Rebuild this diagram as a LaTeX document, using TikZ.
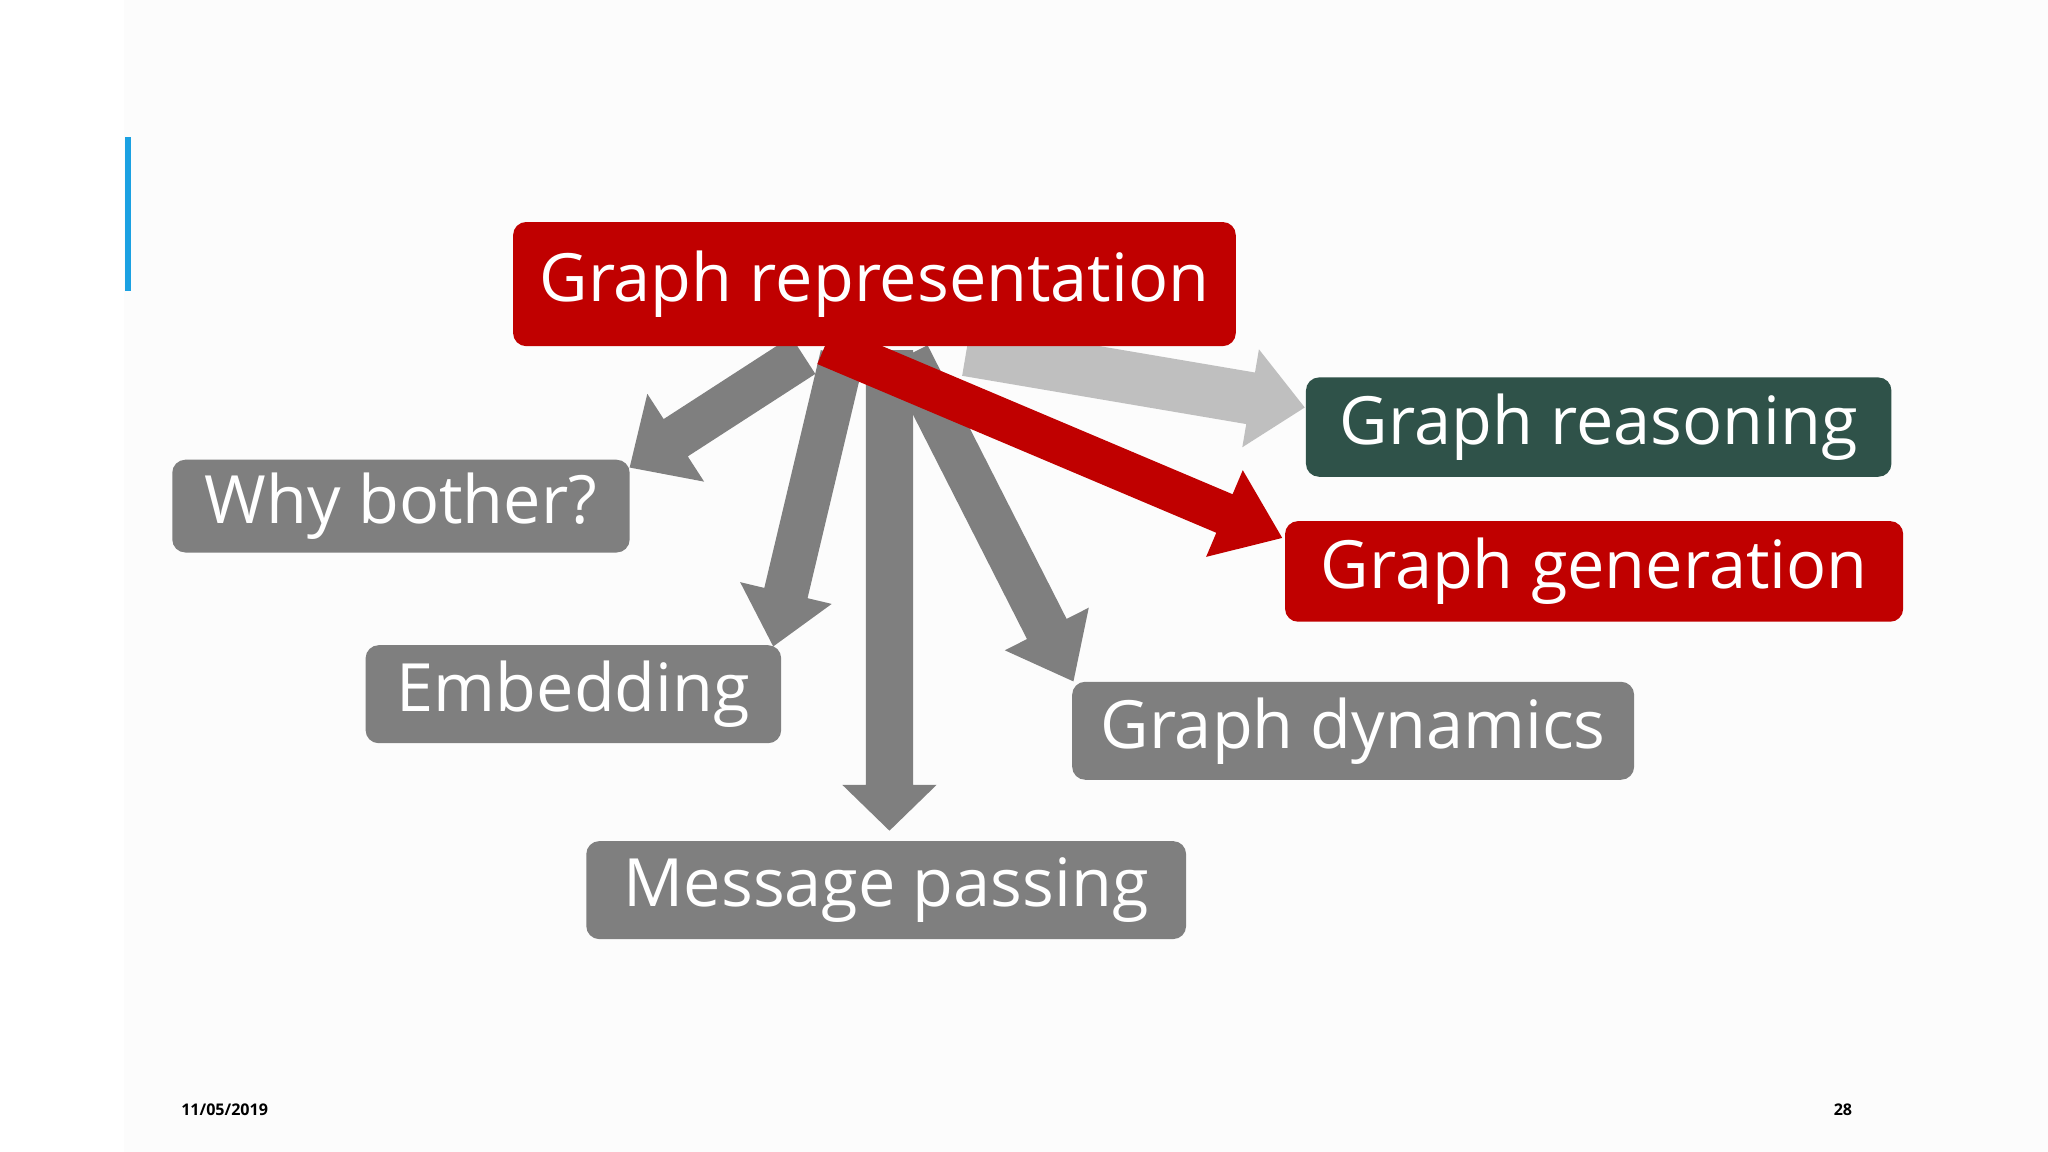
\documentclass[tikz,border=0pt]{standalone}
\usepackage{fontspec}
\setmainfont{Open Sans}
\usetikzlibrary{calc}
\definecolor{bred}{HTML}{C00000}
\definecolor{bgray}{HTML}{7F7F7F}
\definecolor{lgray}{HTML}{BFBFBF}
\definecolor{bteal}{HTML}{2F5249}
\definecolor{bblue}{HTML}{1BA1E2}
\newcommand{\blockarrow}[6]{%
  \path let \p1=($(#3)-(#2)$), \n1={atan2(\y1,\x1)}, \n2={veclen(\x1,\y1)} in
    [fill=#1, shift={(#2)}, rotate=\n1]
    (0pt,{#4*0.1423pt}) -- ({(\n2-#6*0.2845)*1pt},{#4*0.1423pt}) --
    ({(\n2-#6*0.2845)*1pt},{#5*0.1423pt}) -- ({\n2*1pt},0pt) --
    ({(\n2-#6*0.2845)*1pt},{-#5*0.1423pt}) -- ({(\n2-#6*0.2845)*1pt},{-#4*0.1423pt}) --
    (0pt,{-#4*0.1423pt}) -- cycle;}
\tikzset{box/.style={rounded corners=0.1cm, text=white, inner sep=0pt, font=\fontsize{14.5}{16}\selectfont}}
\begin{document}
\begin{tikzpicture}[x=0.01cm,y=-0.01cm]
\useasboundingbox (0,0) rectangle (1568,882);
\fill[white] (0,0) rectangle (1568,882);
\fill[black!1] (95,0) rectangle (1568,882);
\draw[bblue, line width=1.2pt] (98,105) coordinate (b1) -- (98,223) coordinate (b2);
% arrow endpoints
\coordinate (s1) at (615,272); \coordinate (t1) at (482,358);
\coordinate (s2) at (645,272); \coordinate (t2) at (592,495);
\coordinate (s3) at (681,268); \coordinate (t3) at (681,636);
\coordinate (s4) at (695,272); \coordinate (t4) at (822,522);
\coordinate (s5) at (740,268); \coordinate (t5) at (999,312);
\coordinate (s6) at (632,264); \coordinate (t6) at (982,412);
\blockarrow{bgray}{s1}{t1}{34}{80}{42}
\blockarrow{bgray}{s2}{t2}{34}{72}{42}
\blockarrow{bgray}{s3}{t3}{36}{72}{35}
\blockarrow{bgray}{s4}{t4}{34}{72}{45}
\blockarrow{lgray}{s5}{t5}{40}{76}{42}
\blockarrow{bred}{s6}{t6}{32}{72}{48}
\node[box, fill=bred, minimum width=5.53cm, minimum height=0.95cm] (rep) at (669.5,217.5) {Graph representation};
\node[box, fill=bgray, minimum width=3.5cm, minimum height=0.71cm] (why) at (307,387.5) {Why bother?};
\node[box, fill=bgray, minimum width=3.18cm, minimum height=0.75cm] (emb) at (439,531.5) {Embedding};
\node[box, fill=bgray, minimum width=4.59cm, minimum height=0.75cm] (msg) at (678.5,681.5) {Message passing};
\node[box, fill=bgray, minimum width=4.30cm, minimum height=0.75cm] (dyn) at (1036,559.5) {Graph dynamics};
\node[box, fill=bteal, minimum width=4.48cm, minimum height=0.76cm] (rea) at (1224,327) {Graph reasoning};
\node[box, fill=bred, minimum width=4.73cm, minimum height=0.77cm] (gen) at (1220.5,437.5) {Graph generation};
\node[font=\fontsize{3.5}{4}\selectfont\bfseries] (date) at (172,850) {11/05/2019};
\node[font=\fontsize{3.5}{4}\selectfont\bfseries] (pg) at (1411,850) {28};
\end{tikzpicture}
\end{document}
